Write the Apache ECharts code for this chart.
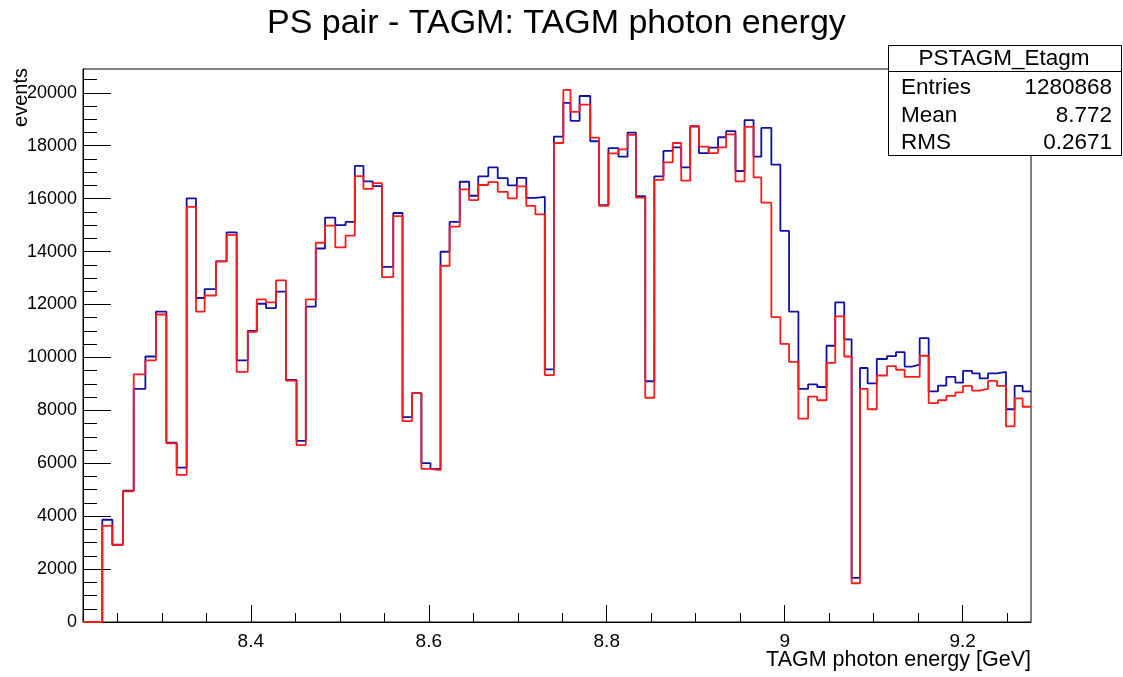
<!DOCTYPE html>
<html>
<head>
<meta charset="utf-8">
<script src="https://cdn.jsdelivr.net/npm/echarts@6/dist/echarts.min.js"></script>
<style>
html,body{margin:0;padding:0;background:#fff;}
#chart{width:1123px;height:677px;}
</style>
</head>
<body>
<div id="chart"></div>
<script>
// Variable-width bins (lower edges of 102 bins + last upper edge), GeV
const binEdges = [
  8.2114, 8.2225, 8.2331, 8.2444, 8.2564, 8.2684, 8.2815, 8.2934, 8.3051, 8.3167,
  8.3279, 8.3384, 8.3481, 8.3609, 8.3728, 8.3841, 8.3966, 8.4067, 8.4171, 8.4283,
  8.4395, 8.4514, 8.4618, 8.4730, 8.4834, 8.4949, 8.5065, 8.5169, 8.5266, 8.5370,
  8.5474, 8.5601, 8.5705, 8.5811, 8.5917, 8.6019, 8.6132, 8.6234, 8.6348, 8.6454,
  8.6556, 8.6669, 8.6775, 8.6888, 8.6990, 8.7096, 8.7198, 8.7304, 8.7406, 8.7512,
  8.7593, 8.7695, 8.7815, 8.7913, 8.8019, 8.8132, 8.8234, 8.8328, 8.8433, 8.8535,
  8.8637, 8.8742, 8.8837, 8.8938, 8.9036, 8.9145, 8.9251, 8.9342, 8.9447, 8.9549,
  8.9650, 8.9737, 8.9850, 8.9951, 9.0049, 9.0154, 9.0263, 9.0365, 9.0470, 9.0568,
  9.0669, 9.0752, 9.0846, 9.0932, 9.1035, 9.1150, 9.1251, 9.1348, 9.1431, 9.1517,
  9.1618, 9.1723, 9.1816, 9.1918, 9.2004, 9.2105, 9.2191, 9.2285, 9.2386, 9.2487,
  9.2584, 9.2674, 9.2768
];
// Blue histogram contents
const blueCounts = [
  0, 0, 3865, 2920, 4960, 8814, 10034, 11729, 6780, 5831,
  16014, 12245, 12584, 13628, 14726, 9885, 11000, 12028, 11865, 12489,
  9153, 6848, 11919, 14116, 15282, 14997, 15119, 17235, 16652, 16475,
  13424, 15458, 7743, 8651, 6007, 5790, 13994, 15119, 16638, 16109,
  16842, 17181, 16774, 16503, 16787, 16028, 16069, 9546, 18347, 19621,
  18943, 19879, 18170, 15757, 17913, 17587, 18496, 16096, 9099, 16842,
  17804, 17940, 17181, 18726, 17723, 17926, 18320, 18550, 17045, 18970,
  17587, 18672, 17289, 14780, 11729, 8814, 8977, 8882, 10441, 12082,
  10685, 1668, 9600, 9017, 9939, 10048, 10197, 9655, 9723, 10726,
  8719, 8936, 9261, 9045, 9492, 9397, 9207, 9397, 9451, 8041,
  8922, 8719
];
// Red histogram contents
const redCounts = [
  0, 0, 3634, 2915, 4940, 9356, 9885, 11621, 6753, 5560,
  15689, 11729, 12340, 13628, 14631, 9451, 10970, 12190, 12082, 12909,
  9126, 6685, 12190, 14333, 14984, 14157, 14604, 16855, 16367, 16584,
  13031, 15336, 7594, 8651, 5790, 5736, 13465, 14943, 16353, 15947,
  16516, 16625, 16258, 16014, 16462, 15730, 15404, 9329, 18103, 20109,
  19282, 19553, 18306, 15730, 17709, 17859, 18414, 16042, 8475, 16706,
  17370, 18103, 16679, 18753, 17967, 17723, 17940, 18428, 16652, 18713,
  16801, 15852, 11526, 10509, 9831, 7689, 8516, 8380, 9790, 11553,
  10034, 1464, 8814, 8041, 9316, 9668, 9533, 9261, 9261, 10062,
  8272, 8380, 8543, 8678, 8922, 8746, 8814, 9112, 8922, 7390,
  8448, 8136
];
const xMajorTicks = [8.4, 8.6, 8.8, 9.0, 9.2];
const xMinorTicks = [8.25, 8.3, 8.35, 8.45, 8.5, 8.55, 8.65, 8.7, 8.75, 8.85, 8.9, 8.95, 9.05, 9.1, 9.15, 9.25];
const yMajorTicks = [0, 2000, 4000, 6000, 8000, 10000, 12000, 14000, 16000, 18000, 20000];
const yMinorTicks = [500, 1000, 1500, 2500, 3000, 3500, 4500, 5000, 5500, 6500, 7000, 7500, 8500, 9000, 9500,
  10500, 11000, 11500, 12500, 13000, 13500, 14500, 15000, 15500, 16500, 17000, 17500, 18500, 19000, 19500, 20500];
const statsName = 'PSTAGM_Etagm';
const statsRows = [['Entries', '1280868'], ['Mean', '8.772'], ['RMS', '0.2671']];
const titleText = 'PS pair - TAGM: TAGM photon energy';
const xTitle = 'TAGM photon energy [GeV]';
const yTitle = 'events';

const X_MIN = binEdges[0], X_MAX = binEdges[binEdges.length - 1];
const Y_MAX = 20900;
const FONT = 'Liberation Sans, Arial, Helvetica, sans-serif';

function histPath(counts) {
  const pts = [];
  for (let i = 0; i < counts.length; i++) {
    pts.push([binEdges[i], counts[i]]);
    pts.push([binEdges[i + 1], counts[i]]);
  }
  return pts;
}

const chart = echarts.init(document.getElementById('chart'), null, {renderer: 'canvas'});

const graphics = [
  {type: 'text', x: 21, y: 68, rotation: Math.PI / 2,
   style: {text: yTitle, font: '20px ' + FONT, fill: '#000', align: 'right', verticalAlign: 'middle'}},
  {type: 'text', x: 1031, y: 660,
   style: {text: xTitle, font: '21.5px ' + FONT, fill: '#000', align: 'right', verticalAlign: 'middle'}},
  {type: 'rect', shape: {x: 888.5, y: 45.5, width: 233, height: 110},
   style: {fill: '#fff', stroke: '#000', lineWidth: 1}, z: 100},
  {type: 'line', shape: {x1: 888.5, y1: 71.5, x2: 1121.5, y2: 71.5},
   style: {stroke: '#000', lineWidth: 1}, z: 101},
  {type: 'text', x: 1004, y: 59, z: 102,
   style: {text: statsName, font: '22.5px ' + FONT, fill: '#000', align: 'center', verticalAlign: 'middle'}}
];
statsRows.forEach((r, i) => {
  const y = 88 + i * 27.5;
  graphics.push({type: 'text', x: 901, y: y, z: 102,
    style: {text: r[0], font: '22.5px ' + FONT, fill: '#000', align: 'left', verticalAlign: 'middle'}});
  graphics.push({type: 'text', x: 1112, y: y, z: 102,
    style: {text: r[1], font: '22.5px ' + FONT, fill: '#000', align: 'right', verticalAlign: 'middle'}});
});

chart.setOption({
  animation: false,
  backgroundColor: '#fff',
  title: {
    text: titleText,
    left: 262, top: 2,
    textStyle: {fontFamily: FONT, fontSize: 34, fontWeight: 'normal', color: '#000'}
  },
  grid: {left: 83, right: 92, top: 69, bottom: 55, containLabel: false, outerBoundsMode: 'none',
    show: true, borderColor: '#000', borderWidth: 1, backgroundColor: 'transparent'},
  xAxis: [
    {
      type: 'value', min: X_MIN, max: X_MAX, position: 'bottom',
      axisLine: {show: true, onZero: false, lineStyle: {color: '#000', width: 1}},
      axisTick: {show: true, inside: true, length: 17, customValues: xMajorTicks, lineStyle: {color: '#000'}},
      axisLabel: {show: true, customValues: xMajorTicks, margin: 10, fontFamily: FONT, fontSize: 19, color: '#000',
        formatter: v => (Math.abs(v - 9) < 1e-9 ? '9' : v.toFixed(1))},
      splitLine: {show: false}
    },
    {
      type: 'value', min: X_MIN, max: X_MAX, position: 'bottom',
      axisLine: {show: false, onZero: false},
      axisTick: {show: true, inside: true, length: 9, customValues: xMinorTicks, lineStyle: {color: '#000'}},
      axisLabel: {show: false},
      splitLine: {show: false}
    }
  ],
  yAxis: [
    {
      type: 'value', min: 0, max: Y_MAX, position: 'left',
      axisLine: {show: true, onZero: false, lineStyle: {color: '#000', width: 1}},
      axisTick: {show: true, inside: true, length: 28, customValues: yMajorTicks, lineStyle: {color: '#000'}},
      axisLabel: {show: true, customValues: yMajorTicks, margin: 6, fontFamily: FONT, fontSize: 18, color: '#000',
        formatter: v => String(Math.round(v))},
      splitLine: {show: false}
    },
    {
      type: 'value', min: 0, max: Y_MAX, position: 'left',
      axisLine: {show: false, onZero: false},
      axisTick: {show: true, inside: true, length: 14, customValues: yMinorTicks, lineStyle: {color: '#000'}},
      axisLabel: {show: false},
      splitLine: {show: false}
    }
  ],
  series: [
    {
      name: 'blue', type: 'line', xAxisIndex: 0, yAxisIndex: 0,
      data: histPath(blueCounts), showSymbol: false, symbol: 'none', clip: true,
      lineStyle: {color: '#1010a8', width: 1.8}, z: 3
    },
    {
      name: 'red', type: 'line', xAxisIndex: 0, yAxisIndex: 0,
      data: histPath(redCounts), showSymbol: false, symbol: 'none', clip: true,
      lineStyle: {color: '#ff1a1a', width: 1.8}, z: 4
    }
  ],
  graphic: graphics
});
</script>
</body>
</html>
